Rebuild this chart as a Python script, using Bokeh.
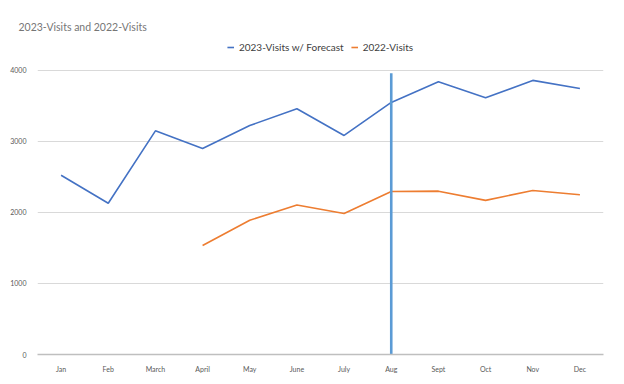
from bokeh.plotting import figure
from bokeh.models import FactorRange, Range1d, FixedTicker, Legend, LegendItem, ColumnDataSource
from bokeh.embed import file_html
from bokeh.resources import INLINE

months = ["Jan", "Feb", "March", "April", "May", "June", "July", "Aug", "Sept", "Oct", "Nov", "Dec"]
visits_2023 = [2525, 2130, 3150, 2900, 3225, 3460, 3085, 3550, 3840, 3615, 3860, 3745]
months_2022 = ["April", "May", "June", "July", "Aug", "Sept", "Oct", "Nov", "Dec"]
visits_2022 = [1535, 1890, 2105, 1985, 2295, 2300, 2170, 2310, 2250]
forecast_month = ["Aug"]
forecast_top = [3960]
y_ticks = [0, 1000, 2000, 3000, 4000]

FONT = "Lato"

p = figure(width=616, height=376, x_range=FactorRange(*months), y_range=Range1d(0, 4450),
           output_backend="svg", toolbar_location=None,
           min_border_left=37, min_border_right=13, min_border_bottom=22, min_border_top=38)
p.outline_line_color = None
p.background_fill_color = "white"
p.border_fill_color = "white"

p.title.text = "2023-Visits and 2022-Visits"
p.title.text_font = FONT
p.title.text_font_size = "10.5px"
p.title.text_font_style = "normal"
p.title.text_color = "#767676"
p.title.offset = -19
p.title.standoff = 11

r1 = p.line(months, visits_2023, line_color="#4472c4", line_width=1.6)
r2 = p.line(months_2022, visits_2022, line_color="#ed7d31", line_width=1.6)
src = ColumnDataSource(dict(x=forecast_month, top=forecast_top, bottom=[0]))
p.segment(x0="x", y0="bottom", x1="x", y1="top", source=src, line_color="#5b9bd5", line_width=2.6)

p.yaxis.ticker = FixedTicker(ticks=y_ticks)
p.yaxis.axis_line_color = None
p.yaxis.major_tick_line_color = None
p.yaxis.minor_tick_line_color = None
p.yaxis.major_label_text_font_size = "7px"
p.yaxis.major_label_text_color = "#595959"
p.yaxis.major_label_text_font = FONT

p.xaxis.axis_line_color = "#bfbfbf"
p.xaxis.axis_line_width = 1.5
p.xaxis.major_tick_line_color = None
p.xaxis.minor_tick_line_color = None
p.xaxis.major_label_text_font_size = "7px"
p.xaxis.major_label_text_color = "#595959"
p.xaxis.major_label_text_font = FONT
p.xaxis.major_label_standoff = 4

p.xgrid.grid_line_color = None
p.ygrid.grid_line_color = "#d9d9d9"
p.ygrid.grid_line_width = 1

legend = Legend(items=[LegendItem(label="2023-Visits w/ Forecast", renderers=[r1]),
                       LegendItem(label="2022-Visits", renderers=[r2])],
                orientation="horizontal", location="top_center")
legend.label_text_font = FONT
legend.label_text_font_size = "10px"
legend.label_text_color = "#404040"
legend.border_line_color = None
legend.background_fill_alpha = 0
legend.glyph_width = 7
legend.glyph_height = 10
legend.spacing = 7
legend.padding = 2
legend.margin = 2
legend.label_standoff = 5
legend.label_height = 14
p.add_layout(legend)

open("out.html", "w").write(file_html(p, INLINE))
